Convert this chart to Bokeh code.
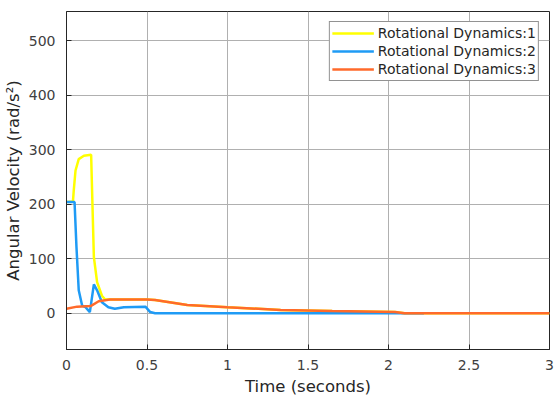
from bokeh.plotting import figure
from bokeh.models import Range1d, Legend, LegendItem, SingleIntervalTicker
from bokeh.embed import file_html
from bokeh.resources import INLINE

# Series data (time in seconds, angular velocity)
t1 = [0, 0.04, 0.045, 0.056, 0.076, 0.108, 0.153, 0.16, 0.17, 0.19, 0.22, 0.24, 0.27, 0.5, 0.55, 0.75, 1.0, 1.33, 1.65, 2.04, 2.1, 3.0]
v1 = [204, 205, 225, 262, 283, 289, 291, 213, 103, 57, 32, 25, 25, 25, 24, 15, 11, 6, 4, 2, 0, 0]

t2 = [0, 0.05, 0.062, 0.076, 0.097, 0.118, 0.145, 0.17, 0.19, 0.22, 0.26, 0.3, 0.356, 0.49, 0.52, 0.55, 2.22]
v2 = [204, 204, 121, 42, 14, 11, 2, 53, 42, 20, 11, 8, 11, 12, 2, 0, 0]

t3 = [0, 0.066, 0.15, 0.2, 0.27, 0.5, 0.55, 0.75, 1.0, 1.33, 1.65, 2.04, 2.1, 3.0]
v3 = [8, 12, 13, 22, 25, 25, 24, 15, 11, 6, 4, 2, 0, 0]

labels = ["Rotational Dynamics:1", "Rotational Dynamics:2", "Rotational Dynamics:3"]
colors = ["#ffff00", "#1f9bf5", "#ff6a2b"]

FONT = "DejaVu Sans"

p = figure(width=559, height=398, output_backend="svg", toolbar_location=None,
           x_range=Range1d(0, 3), y_range=Range1d(-66.7, 554))
p.min_border_left = 66
p.min_border_right = 10
p.min_border_top = 11
p.min_border_bottom = 49
p.background_fill_color = "white"
p.border_fill_color = "white"
p.outline_line_color = "#262626"
p.outline_line_width = 1

r1 = p.line(t1, v1, line_color=colors[0], line_width=2.5)
r2 = p.line(t2, v2, line_color=colors[1], line_width=2.5)
r3 = p.line(t3, v3, line_color=colors[2], line_width=2.5)

p.xaxis.ticker = SingleIntervalTicker(interval=0.5)
p.yaxis.ticker = SingleIntervalTicker(interval=100)
for ax in (p.xaxis, p.yaxis):
    ax.axis_line_color = "#262626"
    ax.major_tick_in = 5
    ax.major_tick_out = 0
    ax.minor_tick_line_color = None
    ax.major_tick_line_color = "#262626"
    ax.major_label_text_font = FONT
    ax.major_label_text_font_size = "14px"
    ax.major_label_text_color = "#404040"
    ax.axis_label_text_font = FONT
    ax.axis_label_text_font_size = "16.5px"
    ax.axis_label_text_font_style = "normal"
    ax.axis_label_text_color = "#262626"
p.xaxis.axis_label = "Time (seconds)"
p.yaxis.axis_label = "Angular Velocity (rad/s²)"
p.xaxis.major_label_standoff = 6
p.xaxis.axis_label_standoff = 4
p.yaxis.major_label_standoff = 7
p.yaxis.axis_label_standoff = 3

p.grid.grid_line_color = "#b0b0b0"
p.grid.grid_line_width = 1

legend = Legend(items=[LegendItem(label=labels[0], renderers=[r1]),
                       LegendItem(label=labels[1], renderers=[r2]),
                       LegendItem(label=labels[2], renderers=[r3])],
                location="top_right")
legend.margin = 10
legend.padding = 2
legend.spacing = 0
legend.glyph_width = 42
legend.glyph_height = 18
legend.label_height = 18
legend.label_standoff = 4
legend.label_text_font = FONT
legend.label_text_font_size = "14px"
legend.label_text_color = "#262626"
legend.border_line_color = "#262626"
legend.border_line_width = 1
legend.background_fill_alpha = 1
p.add_layout(legend)

open("out.html", "w").write(file_html(p, INLINE))
